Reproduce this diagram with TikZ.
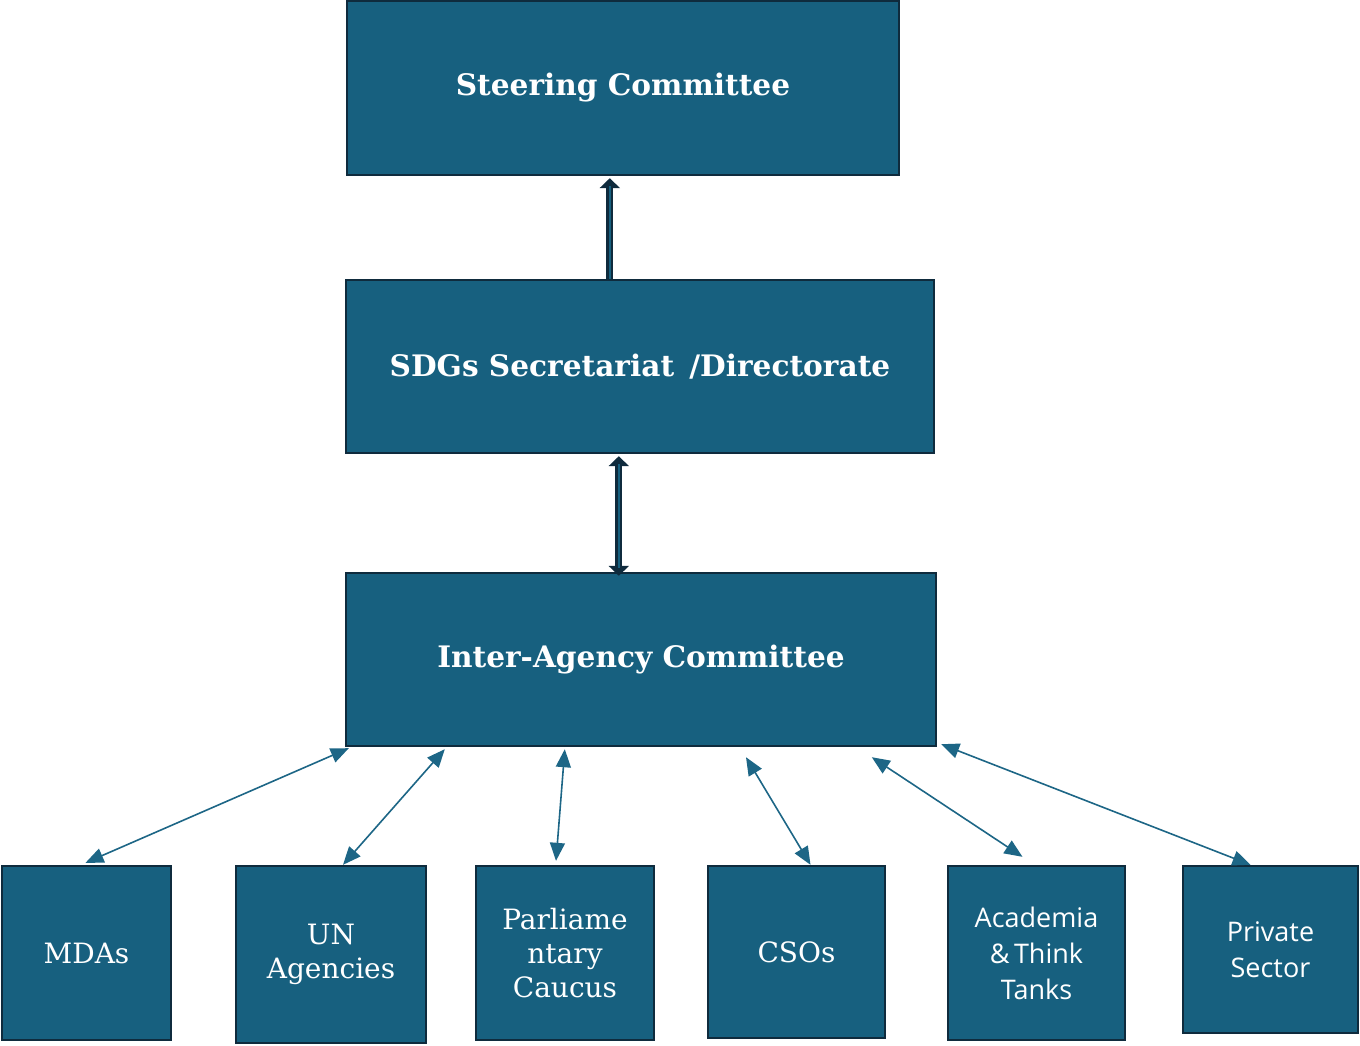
\documentclass[tikz,border=0pt]{standalone}
\usepackage{fontspec}
\setmainfont{DejaVu Serif}
\newfontfamily\sansf{Open Sans}
\usetikzlibrary{calc,arrows.meta}
\definecolor{boxfill}{HTML}{17607F}
\definecolor{boxline}{HTML}{0F2B3D}
\definecolor{arrowc}{HTML}{1D6686}
\tikzset{
  box/.style={draw=boxline, fill=boxfill, line width=1.2pt, inner sep=0pt, text=white, align=center},
  bigbox/.style={box, font=\bfseries\fontsize{14.8}{17}\selectfont},
  smallbox/.style={box, font=\fontsize{14}{17}\selectfont},
  sansbox/.style={box, font=\sansf\fontsize{13.5}{18}\selectfont},
  conn/.style={arrowc, line width=0.8pt, {Triangle[length=9pt,width=7.5pt]}-{Triangle[length=9pt,width=7.5pt]}},
}
\begin{document}
\begin{tikzpicture}[x=0.5pt,y=-0.5pt]
\useasboundingbox (0,0) rectangle (1360,1045);
\node[bigbox, minimum width=276pt, minimum height=87pt] (sc) at (623,88) {\raisebox{-1pt}{Steering Committee}};
\node[bigbox, minimum width=294pt, minimum height=86.5pt] (sdg) at (640,366.5) {\raisebox{-1pt}{SDGs Secretariat \,/Directorate}};
\node[bigbox, minimum width=295pt, minimum height=86.5pt] (iac) at (641,659.5) {\raisebox{-1pt}{Inter-Agency Committee}};
\node[smallbox, minimum width=84.5pt, minimum height=87pt] (mda) at (86.5,953) {MDAs};
\node[smallbox, minimum width=95pt, minimum height=88.5pt] (un) at (331,954.5) {UN\\Agencies};
\node[smallbox, minimum width=89pt, minimum height=87pt] (parl) at (565,953) {Parliame\\ntary\\Caucus};
\node[smallbox, minimum width=88.5pt, minimum height=86pt] (cso) at (796.5,952) {CSOs};
\node[sansbox, minimum width=88.5pt, minimum height=87pt] (acad) at (1036.5,953) {Academia\\\&\,Think\\Tanks};
\node[sansbox, minimum width=87.5pt, minimum height=83.5pt] (pvt) at (1270.5,949.5) {Private\\Sector};
% thick arrows
\draw[boxline, line width=3.5pt, -{Triangle[length=5pt,width=10pt]}] ($(sdg.north west)+(265,2)$) -- ($(sc.south west)+(264,2)$);
\draw[boxfill, line width=1.2pt, shorten >=4pt] ($(sdg.north west)+(265,0)$) -- ($(sc.south west)+(264,2)$);
\draw[boxline, line width=3.5pt, {Triangle[length=5pt,width=10pt]}-{Triangle[length=5pt,width=10pt]}] ($(iac.north west)+(274,4)$) -- ($(sdg.south west)+(274,2)$);
\draw[boxfill, line width=1.2pt, shorten >=4pt, shorten <=4pt] ($(iac.north west)+(274,4)$) -- ($(sdg.south west)+(274,2)$);
% connectors
\draw[conn] ($(iac.south west)+(4,1)$) -- ($(mda.north)+(-1,-2)$);
\draw[conn] ($(iac.south west)+(100,2)$) -- ($(un.north)+(12,0)$);
\draw[conn] ($(iac.south west)+(220,2)$) -- ($(parl.north)+(-9,-4)$);
\draw[conn] ($(iac.south)+(105,10)$) -- ($(cso.north)+(14,0)$);
\draw[conn] ($(iac.south west)+(527,10)$) -- ($(acad.north)+(-14,-8)$);
\draw[conn] ($(iac.south east)+(4,-3)$) -- ($(pvt.north)+(-20,0)$);
\end{tikzpicture}
\end{document}
